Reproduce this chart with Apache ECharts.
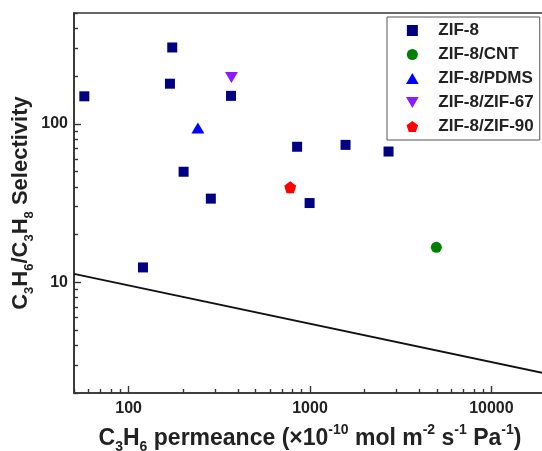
<!DOCTYPE html>
<html>
<head>
<meta charset="utf-8">
<script src="https://cdn.jsdelivr.net/npm/echarts@6/dist/echarts.min.js"></script>
<style>
  html, body { margin: 0; padding: 0; background: #fff; }
  #chart { width: 542px; height: 451px; }
</style>
</head>
<body>
<div id="chart"></div>
<script>
// C3H6 permeance (x1e-10 mol m-2 s-1 Pa-1) and C3H6/C3H8 selectivity
var zif8X = [57, 174, 169, 367, 201, 284, 120, 849, 995, 1570, 2710];
var zif8Y = [149, 303, 179, 150, 49.8, 33.7, 12.4, 71.6, 31.6, 73.6, 66.8];
var cntX = [4970];
var cntY = [16.6];
var pdmsX = [241];
var pdmsY = [94];
var zif67X = [369];
var zif67Y = [196];
var zif90X = [778];
var zif90Y = [39.8];
// upper bound line
var boundX = [50, 20000];
var boundY = [11.3, 2.65];

var xMajor = [100, 1000, 10000];
var xMinor = [50, 60, 70, 80, 90, 200, 300, 400, 500, 600, 700, 800, 900,
  2000, 3000, 4000, 5000, 6000, 7000, 8000, 9000, 20000];
var yMajor = [10, 100];
var yMinor = [2, 3, 4, 5, 6, 7, 8, 9, 20, 30, 40, 50, 60, 70, 80, 90, 200, 300, 400, 500];

function pairs(xs, ys) {
  var out = [];
  for (var i = 0; i < xs.length; i++) {
    out.push([xs[i], ys[i]]);
  }
  return out;
}

var font = '"Liberation Sans", Arial, sans-serif';
// path symbols keep their aspect in the legend too
var square = 'path://M0,0 L100,0 L100,100 L0,100 Z';
var upTriangle = 'path://M50,0 L100,86.6 L0,86.6 Z';
var downTriangle = 'path://M0,0 L100,0 L50,86.6 Z';
var pentagon = 'path://M50,0 L97.6,34.5 L79.4,90.5 L20.6,90.5 L2.4,34.5 Z';

var chart = echarts.init(document.getElementById('chart'));

var axisLineStyle = { color: '#333', width: 1.6 };
function plainNumber(v) { return String(Math.round(v)); }

var option = {
  animation: false,
  backgroundColor: '#fff',
  grid: {
    left: 74, top: 13, right: -4, bottom: 58,
    show: true, borderColor: '#333', borderWidth: 1.6,
    containLabel: false,
    outerBoundsMode: 'none'
  },
  legend: {
    orient: 'vertical',
    left: 387, top: 17,
    padding: [5, 6, 5, 19],
    itemGap: 7,
    itemWidth: 42,
    itemHeight: 11,
    symbolKeepAspect: true,
    backgroundColor: '#fff',
    borderColor: '#555',
    borderWidth: 1,
    textStyle: { fontFamily: font, fontWeight: 'bold', fontSize: 17, color: '#222' },
    data: ['ZIF-8', 'ZIF-8/CNT', 'ZIF-8/PDMS', 'ZIF-8/ZIF-67', 'ZIF-8/ZIF-90']
  },
  xAxis: [{
    type: 'log',
    min: 50, max: 20000,
    position: 'bottom',
    axisLine: { show: true, lineStyle: axisLineStyle },
    axisTick: { show: true, inside: true, length: 4, customValues: xMinor, lineStyle: { color: '#333', width: 1.4 } },
    axisLabel: {
      customValues: xMajor, margin: 8, formatter: plainNumber,
      fontFamily: font, fontWeight: 'bold', fontSize: 16, color: '#222'
    },
    splitLine: { show: false },
    name: 'C{sub|3}H{sub|6} permeance (×10{sup|-10} mol m{sup|-2} s{sup|-1} Pa{sup|-1})',
    nameLocation: 'middle',
    nameGap: 30,
    nameTextStyle: {
      fontFamily: font, fontWeight: 'bold', fontSize: 23, color: '#222', lineHeight: 31,
      rich: {
        sub: { fontFamily: font, fontWeight: 'bold', fontSize: 14, color: '#222', verticalAlign: 'bottom', lineHeight: 14 },
        sup: { fontFamily: font, fontWeight: 'bold', fontSize: 14, color: '#222', verticalAlign: 'top', lineHeight: 14 }
      }
    }
  }, {
    type: 'log',
    min: 50, max: 20000,
    position: 'bottom',
    axisLine: { show: false },
    axisTick: { show: true, inside: true, length: 7, customValues: xMajor, lineStyle: { color: '#333', width: 1.4 } },
    axisLabel: { show: false },
    splitLine: { show: false }
  }],
  yAxis: [{
    type: 'log',
    min: 2, max: 500,
    position: 'left',
    axisLine: { show: true, lineStyle: axisLineStyle },
    axisTick: { show: true, inside: true, length: 4, customValues: yMinor, lineStyle: { color: '#333', width: 1.4 } },
    axisLabel: {
      customValues: yMajor, margin: 6, formatter: plainNumber,
      fontFamily: font, fontWeight: 'bold', fontSize: 16, color: '#222'
    },
    splitLine: { show: false },
    name: 'C{sub|3}H{sub|6}/C{sub|3}H{sub|8} Selectivity',
    nameLocation: 'middle',
    nameRotate: 90,
    nameGap: 38,
    nameMoveOverlap: false,
    nameTextStyle: {
      fontFamily: font, fontWeight: 'bold', fontSize: 22, color: '#222', lineHeight: 30,
      rich: {
        sub: { fontFamily: font, fontWeight: 'bold', fontSize: 13, color: '#222', verticalAlign: 'bottom', lineHeight: 13 }
      }
    }
  }, {
    type: 'log',
    min: 2, max: 500,
    position: 'left',
    axisLine: { show: false },
    axisTick: { show: true, inside: true, length: 7, customValues: yMajor, lineStyle: { color: '#333', width: 1.4 } },
    axisLabel: { show: false },
    splitLine: { show: false }
  }],
  series: [{
    name: 'ZIF-8',
    type: 'scatter',
    symbol: square,
    symbolSize: 10,
    itemStyle: { color: '#000080', opacity: 1 },
    data: pairs(zif8X, zif8Y),
    z: 3
  }, {
    name: 'ZIF-8/CNT',
    type: 'scatter',
    symbol: 'circle',
    symbolSize: 11,
    itemStyle: { color: '#008000', opacity: 1 },
    data: pairs(cntX, cntY),
    z: 3
  }, {
    name: 'ZIF-8/PDMS',
    type: 'scatter',
    symbol: upTriangle,
    symbolSize: [13, 11],
    itemStyle: { color: '#0000ff', opacity: 1 },
    data: pairs(pdmsX, pdmsY),
    z: 3
  }, {
    name: 'ZIF-8/ZIF-67',
    type: 'scatter',
    symbol: downTriangle,
    symbolSize: [13, 11],
    itemStyle: { color: '#8a1aff', opacity: 1 },
    data: pairs(zif67X, zif67Y),
    z: 3
  }, {
    name: 'ZIF-8/ZIF-90',
    type: 'scatter',
    symbol: pentagon,
    symbolSize: 12,
    itemStyle: { color: '#ff0000', opacity: 1 },
    data: pairs(zif90X, zif90Y),
    z: 3
  }, {
    name: 'bound',
    type: 'line',
    showSymbol: false,
    symbol: 'none',
    silent: true,
    lineStyle: { color: '#111', width: 1.8 },
    data: pairs(boundX, boundY),
    z: 2
  }]
};

chart.setOption(option);
</script>
</body>
</html>
